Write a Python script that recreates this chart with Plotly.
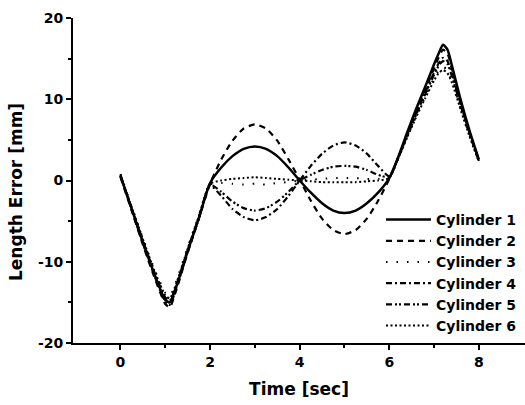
import plotly.graph_objects as go

# Time samples (s)
time_s = [0, 0.25, 0.5, 0.75, 1.0, 1.1, 1.25, 1.5, 1.75, 2.0,
          2.25, 2.5, 2.75, 3.0, 3.25, 3.5, 3.75, 4.0,
          4.25, 4.5, 4.75, 5.0, 5.25, 5.5, 5.75, 6.0,
          6.2, 6.4, 6.6, 6.8, 7.0, 7.1, 7.2, 7.3, 7.4, 7.6, 7.8, 8.0]

cyl1 = [0.6, -3.5, -7.6, -11.4, -14.7, -15.0, -13.0, -8.7, -4.6, -0.3,
        1.6, 3.0, 3.9, 4.2, 3.9, 3.0, 1.6, 0.0,
        -1.5, -2.8, -3.7, -4.0, -3.7, -2.8, -1.5, 0.3,
        2.9, 5.9, 8.8, 11.5, 14.3, 15.6, 16.7, 16.1, 14.1, 9.8, 6.0, 2.6]
cyl2 = [0.4, -3.7, -7.9, -11.8, -15.2, -15.6, -13.4, -8.9, -4.7, -0.4,
        2.6, 4.9, 6.4, 6.9, 6.4, 4.9, 2.6, 0.1,
        -2.5, -4.7, -6.1, -6.6, -6.1, -4.7, -2.5, 0.2,
        2.8, 5.7, 8.5, 11.1, 13.8, 15.1, 16.1, 15.6, 13.7, 9.6, 5.8, 2.5]
cyl3 = [0.8, -3.2, -7.1, -10.8, -13.8, -14.2, -12.3, -8.2, -4.3, -0.5,
        -0.3, -0.4, -0.5, -0.4, -0.5, -0.3, -0.2, 0.0,
        0.1, 0.2, 0.3, 0.3, 0.3, 0.2, 0.2, 0.4,
        2.7, 5.4, 7.9, 10.3, 12.6, 13.5, 14.0, 13.6, 12.3, 8.8, 5.4, 2.3]
cyl4 = [0.5, -3.4, -7.4, -11.2, -14.4, -14.8, -12.8, -8.5, -4.5, -0.6,
        -1.9, -3.5, -4.5, -4.9, -4.5, -3.5, -1.9, 0.0,
        1.8, 3.3, 4.3, 4.7, 4.3, 3.3, 1.8, 0.5,
        2.8, 5.6, 8.3, 10.8, 13.3, 14.4, 15.1, 14.7, 13.1, 9.3, 5.7, 2.4]
cyl5 = [0.7, -3.6, -7.7, -11.6, -14.9, -15.3, -13.2, -8.8, -4.7, -0.5,
        -1.4, -2.6, -3.4, -3.7, -3.4, -2.6, -1.4, 0.0,
        0.7, 1.3, 1.7, 1.8, 1.7, 1.3, 0.7, 0.4,
        2.8, 5.5, 8.1, 10.6, 13.0, 14.1, 14.7, 14.3, 12.8, 9.1, 5.6, 2.4]
cyl6 = [0.6, -3.3, -7.2, -11.0, -14.1, -14.5, -12.6, -8.4, -4.4, -0.4,
        0.0, 0.2, 0.3, 0.4, 0.3, 0.2, 0.1, 0.0,
        -0.1, -0.2, -0.2, -0.2, -0.2, -0.1, 0.0, 0.3,
        2.7, 5.3, 7.8, 10.1, 12.3, 13.2, 13.6, 13.2, 12.0, 8.6, 5.3, 2.3]

names = ["Cylinder 1", "Cylinder 2", "Cylinder 3", "Cylinder 4", "Cylinder 5", "Cylinder 6"]
series = [cyl1, cyl2, cyl3, cyl4, cyl5, cyl6]
dashes = ["solid", "6px,5px", "1.5px,9px", "6px,3px,2px,3px",
          "6px,3px,2px,2px,2px,3px", "2px,2.5px"]
widths = [2.5, 2.2, 2, 2.2, 2.2, 2]

x_ticks = [0, 2, 4, 6, 8]
y_ticks = [-20, -10, 0, 10, 20]

fig = go.Figure()
for i, (nm, vals) in enumerate(zip(names, series)):
    fig.add_trace(go.Scatter(
        x=time_s, y=vals, name=nm, mode="lines", legendgroup=nm,
        line=dict(color="black", width=widths[i], dash=dashes[i], shape="spline", smoothing=0.6),
    ))

tickfont = dict(family="DejaVu Sans", size=14, color="black", weight=900)
titlefont = dict(family="DejaVu Sans", size=17, color="black", weight="bold")

fig.update_layout(
    width=525, height=405, autosize=False,
    margin=dict(l=73, r=0, t=18, b=62),
    paper_bgcolor="white", plot_bgcolor="white",
    showlegend=True,
    legend=dict(
        x=(381 - 73) / 452, y=(343 - 204) / 325, xanchor="left", yanchor="top",
        font=dict(family="DejaVu Sans", size=14, color="black", weight="bold"),
        bgcolor="rgba(0,0,0,0)", borderwidth=0, tracegroupgap=0, itemwidth=45,
    ),
    xaxis=dict(
        range=[-1.06, 9.03], tickvals=x_ticks, ticktext=["<b>%d</b>" % v for v in x_ticks],
        showgrid=False, zeroline=False, showline=True, linecolor="black", linewidth=2,
        ticks="outside", ticklen=5, tickwidth=2, tickcolor="black",
        minor=dict(tickvals=[1, 3, 5, 7], ticks="outside", ticklen=3, tickwidth=1.5, tickcolor="black"),
        tickfont=tickfont,
        title=dict(text="Time [sec]", font=titlefont, standoff=14),
    ),
    yaxis=dict(
        range=[-20, 20], tickvals=y_ticks, ticktext=["<b>%d</b>" % v for v in y_ticks],
        showgrid=False, zeroline=False, showline=True, linecolor="black", linewidth=2,
        ticks="outside", ticklen=5, tickwidth=2, tickcolor="black",
        minor=dict(tickvals=[-15, -5, 5, 15], ticks="outside", ticklen=3, tickwidth=1.5, tickcolor="black"),
        tickfont=tickfont,
    ),
    annotations=[dict(
        text="Length Error [mm]", textangle=-90, font=titlefont, showarrow=False,
        xref="paper", yref="paper", x=0, y=(343 - 192) / 325,
        xanchor="center", yanchor="middle", xshift=-57,
    )],
)

fig.write_html("out.html")
